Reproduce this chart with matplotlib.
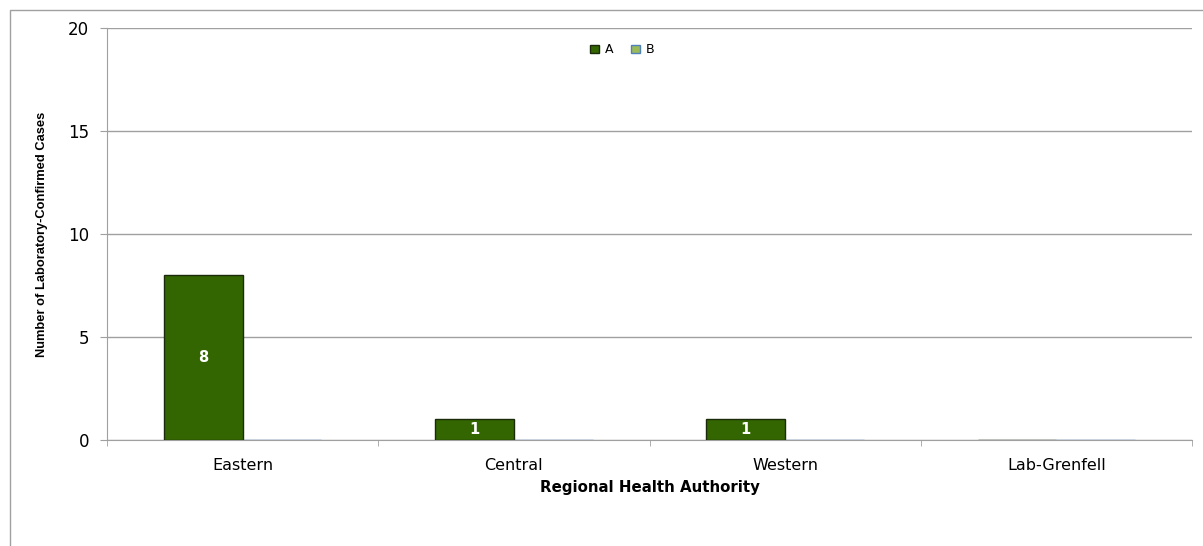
import numpy as np
import matplotlib.pyplot as plt
from matplotlib.patches import Rectangle

regions = ["Eastern", "Central", "Western", "Lab-Grenfell"]
cases_a = [8, 1, 1, 0]
cases_b = [0, 0, 0, 0]

fig = plt.figure(figsize=(12.03, 5.46), dpi=100)
# outer chart frame
fig.patches.append(Rectangle((10 / 1203, -0.1), 1.2, 1 - 10 / 546 + 0.1, transform=fig.transFigure,
                             fill=False, edgecolor="#a0a0a0", linewidth=1))
ax = fig.add_axes([107 / 1203, 1 - 440 / 546, (1192 - 107) / 1203, (440 - 28) / 546])

x = np.arange(len(regions))
w = 0.29
bars_a = ax.bar(x - w / 2, cases_a, w, color="#336600", edgecolor="#1a2a0a", linewidth=1, label="A", zorder=3)
bars_b = ax.bar(x + w / 2, cases_b, w, color="#9bbb59", edgecolor="#4f81bd", linewidth=1, label="B", zorder=3)

for b, v in zip(bars_a, cases_a):
    if v > 0:
        ax.text(b.get_x() + b.get_width() / 2, v / 2, str(v), ha="center", va="center",
                color="white", fontsize=10.5, fontweight="bold", zorder=4)

ax.set_xlim(-0.5, len(regions) - 0.5)
ax.set_ylim(0, 20)
ax.set_yticks([0, 5, 10, 15, 20])
ax.yaxis.grid(True, color="#a0a0a0", linewidth=1)
ax.set_axisbelow(True)

ax.set_xticks(x)
ax.set_xticklabels(regions, fontsize=11.5)
ax.tick_params(axis="x", length=0, pad=13)
ax.set_xticks(np.arange(-0.5, len(regions)), minor=True)
ax.tick_params(axis="x", which="minor", length=4, color="#a0a0a0", direction="out")
ax.tick_params(axis="y", length=5, color="#a0a0a0", labelsize=12, pad=8)

for s in ["top", "right"]:
    ax.spines[s].set_visible(False)
ax.spines["left"].set_color("#a0a0a0")
ax.spines["bottom"].set_color("#a0a0a0")

ax.set_xlabel("Regional Health Authority", fontsize=10.8, fontweight="bold", labelpad=5)
ax.set_ylabel("Number of Laboratory-Confirmed Cases", fontsize=9.3, fontweight="bold",
              fontstretch="condensed", family=["Liberation Sans Narrow", "Liberation Sans"], labelpad=14)

ax.legend(loc="upper center", bbox_to_anchor=(0.475, 0.99), ncol=2, frameon=False, fontsize=9,
          handlelength=0.7, handleheight=0.7, handletextpad=0.5, columnspacing=1.4)

fig.savefig("out.png", dpi=100)
